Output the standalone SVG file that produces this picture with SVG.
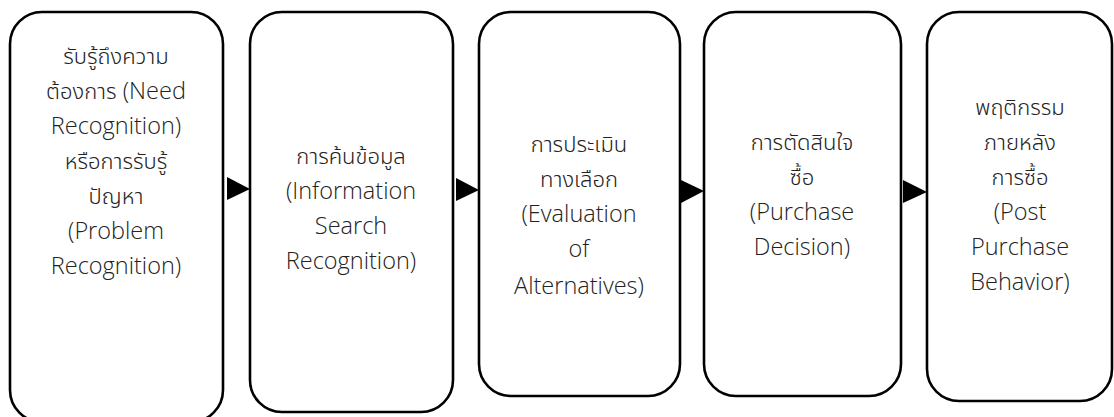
<svg xmlns="http://www.w3.org/2000/svg" width="1114" height="417" viewBox="0 0 1114 417">
<style>
.box{fill:#fff;stroke:#000;stroke-width:2.6}
.t{font-family:"Open Sans","Noto Sans",sans-serif;font-size:23.5px;font-weight:300;fill:#222;text-anchor:middle}
.th{font-family:"Noto Sans Thai","Noto Sans Thai UI",Loma,Waree,Garuda,sans-serif;font-size:22px;font-weight:300}
.arr{fill:#000}
</style>
<rect width="1114" height="417" fill="#fff"/>
<g id="node1">
<rect class="box" x="10" y="12" width="213" height="410" rx="32" ry="32"/>
<text class="t"><tspan class="th" x="116" y="64">รับรู้ถึงความ</tspan><tspan x="116" y="99"><tspan class="th">ต้องการ</tspan> (Need</tspan><tspan x="116" y="134">Recognition)</tspan><tspan class="th" x="116" y="169">หรือการรับรู้</tspan><tspan class="th" x="116" y="204">ปัญหา</tspan><tspan x="116" y="239">(Problem</tspan><tspan x="116" y="274">Recognition)</tspan></text>
</g>
<g id="node2">
<rect class="box" x="250" y="12" width="203" height="400" rx="32" ry="32"/>
<text class="t"><tspan class="th" x="351" y="164">การค้นข้อมูล</tspan><tspan x="351" y="199">(Information</tspan><tspan x="351" y="234">Search</tspan><tspan x="351" y="269">Recognition)</tspan></text>
</g>
<g id="node3">
<rect class="box" x="479" y="12" width="201" height="384" rx="32" ry="32"/>
<text class="t"><tspan class="th" x="579" y="152">การประเมิน</tspan><tspan class="th" x="579" y="187">ทางเลือก</tspan><tspan x="579" y="222">(Evaluation</tspan><tspan x="579" y="257">of</tspan><tspan x="579" y="294">Alternatives)</tspan></text>
</g>
<g id="node4">
<rect class="box" x="704" y="12" width="197" height="384" rx="32" ry="32"/>
<text class="t"><tspan class="th" x="802" y="150">การตัดสินใจ</tspan><tspan class="th" x="802" y="185">ซื้อ</tspan><tspan x="802" y="220">(Purchase</tspan><tspan x="802" y="255">Decision)</tspan></text>
</g>
<g id="node5">
<rect class="box" x="927" y="12" width="185" height="389" rx="32" ry="32"/>
<text class="t"><tspan class="th" x="1020" y="115">พฤติกรรม</tspan><tspan class="th" x="1020" y="150">ภายหลัง</tspan><tspan class="th" x="1020" y="185">การซื้อ</tspan><tspan x="1020" y="220">(Post</tspan><tspan x="1020" y="255">Purchase</tspan><tspan x="1020" y="290">Behavior)</tspan></text>
</g>
<g id="connectors">
<polygon class="arr" points="227,177 250,189 227,200"/>
<polygon class="arr" points="456,178 479,190 456,201"/>
<polygon class="arr" points="681,180 704,191 681,203"/>
<polygon class="arr" points="903,180 927,192 903,203"/>
</g>
</svg>
